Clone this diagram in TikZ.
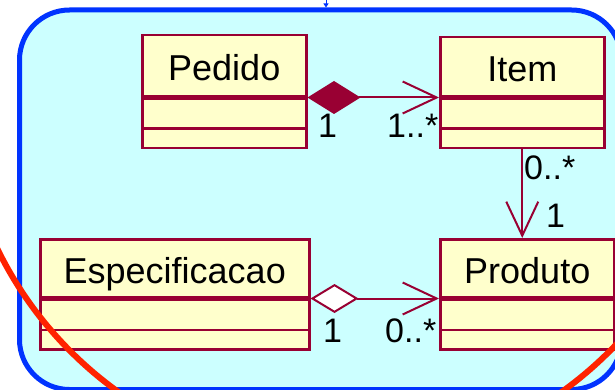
\documentclass[tikz,border=0pt]{standalone}
\usepackage{fontspec}
\setmainfont{Liberation Sans}
\usetikzlibrary{arrows.meta}
\definecolor{umlred}{HTML}{990033}
\definecolor{umlfill}{HTML}{FFFFCC}
\definecolor{pkgfill}{HTML}{CCFFFF}
\definecolor{pkgblue}{HTML}{0033FF}
\definecolor{markred}{HTML}{FF2200}
\begin{document}
\begin{tikzpicture}[x=1pt,y=-1pt,
  pkgframe/.style={draw=pkgblue, fill=pkgfill, line width=5pt, rounded corners=50pt,
    rectangle, inner sep=0pt, anchor=north west},
  classbox/.style={draw=umlred, fill=umlfill, line width=2.5pt, rectangle,
    inner sep=0pt, anchor=north west},
  compart/.style={draw=umlred, line width=2.5pt, rectangle, inner sep=0pt,
    anchor=north west, font=\fontsize{36}{40}\selectfont,
    text height=30pt, text depth=0pt},
  mult/.style={inner sep=0pt, anchor=base west, font=\fontsize{34}{40}\selectfont},
  openhead/.style={-{Straight Barb[length=34pt,width=32pt]}},
  composition/.style={draw=umlred, line width=2pt,
    {Diamond[length=53pt,width=33pt,fill=umlred]}-{Straight Barb[length=34pt,width=32pt]}},
  aggregation/.style={draw=umlred, line width=2pt,
    {Diamond[open,fill=white,length=48pt,width=29pt]}-{Straight Barb[length=34pt,width=32pt]}},
  association/.style={draw=umlred, line width=2pt, openhead},
]
\useasboundingbox (0,0) rectangle (615,390);
\clip (0,0) rectangle (615,390);
\fill[white] (0,0) rectangle (615,390);

% package frame
\node[pkgframe, minimum width=602pt, minimum height=379.5pt] (frame) at (17,7.5) {};
\coordinate (tickstart) at (326,0);
\draw[pkgblue, line width=1pt, -{Triangle[length=4pt,width=5pt]}] (tickstart) -- (tickstart |- frame.north);

% Pedido
\node[classbox, minimum width=164pt, minimum height=113pt] (pedido-all) at (141,34) {};
\node[compart, minimum width=164pt, minimum height=61pt] (pedido) at (141,34) {Pedido};
\node[compart, minimum width=164pt, minimum height=24pt] (pedido-attr) at (pedido.south west) {};

% Item
\node[classbox, minimum width=164pt, minimum height=111pt] (item-all) at (439,36) {};
\node[compart, minimum width=164pt, minimum height=59pt] (item) at (439,36) {Item};
\node[compart, minimum width=164pt, minimum height=25pt] (item-attr) at (item.south west) {};

% Especificacao
\node[classbox, minimum width=269pt, minimum height=110pt] (espec-all) at (39,238) {};
\node[compart, minimum width=269pt, minimum height=58pt] (espec) at (39,238) {Especificacao};
\node[compart, minimum width=269pt, minimum height=24pt] (espec-attr) at (espec.south west) {};

% Produto
\node[classbox, minimum width=174pt, minimum height=110pt] (produto-all) at (439,238) {};
\node[compart, minimum width=174pt, minimum height=58pt] (produto) at (439,238) {Produto};
\node[compart, minimum width=174pt, minimum height=24pt] (produto-attr) at (produto.south west) {};

% relations
\draw[composition] (pedido.south east) -- (item.south west);
\draw[association] (item-all.south) -- (item-all.south |- produto.north);
\draw[aggregation] (espec.south east) -- (produto.south west);

% multiplicities
\node[mult] (m1) at (318,138) {1};
\node[mult] (m2) at (387,138) {1..*};
\node[mult] (m3) at (524,179) {0..*};
\node[mult] (m4) at (546,227) {1};
\node[mult] (m5) at (323,342) {1};
\node[mult] (m6) at (385,342) {0..*};

% red mark
\draw[markred, line width=6pt] (340,82) circle[radius=381];
\end{tikzpicture}
\end{document}
